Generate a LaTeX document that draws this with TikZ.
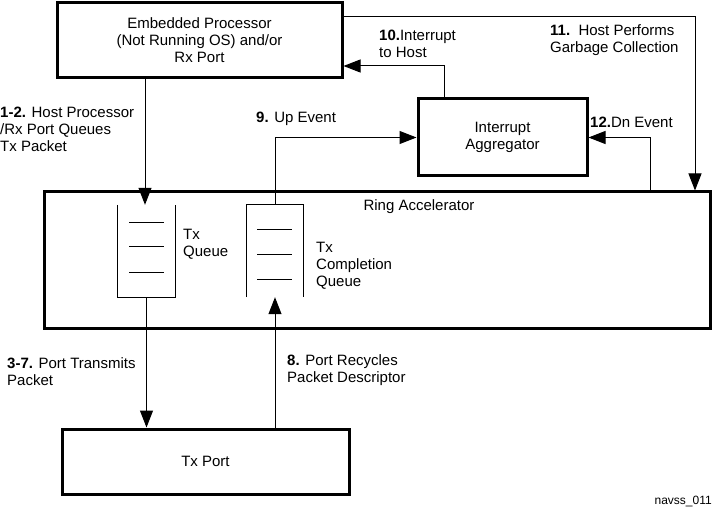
\documentclass[tikz,border=0pt]{standalone}
\usepackage{fontspec}
\setmainfont{Liberation Sans}
\usetikzlibrary{arrows.meta}
\tikzset{
  box/.style={draw, line width=3pt, rectangle, inner sep=0pt, align=center,
    font=\fontsize{15}{17}\selectfont},
  qbox/.style={rectangle, inner sep=0pt},
  lbl/.style={inner sep=0pt, align=left, anchor=west, font=\fontsize{15}{17}\selectfont},
  conn/.style={line width=1pt},
  arr/.style={line width=1pt, -{Triangle[length=17pt,width=13pt]}},
  qline/.style={line width=1pt}
}
\begin{document}
\begin{tikzpicture}[x=1pt,y=-1pt]
\useasboundingbox (0,0) rectangle (713,508);
% boxes
\node[box, minimum width=285pt, minimum height=75pt] (emb) at (199.5,40.5)
  {Embedded Processor\\(Not Running OS) and/or\\Rx Port};
\node[box, minimum width=666pt, minimum height=136pt] (ring) at (377,260) {};
\node[lbl, anchor=center] (ringlbl) at (419,207) {Ring Accelerator};
\node[box, minimum width=169pt, minimum height=77pt] (agg) at (502.5,137.5)
  {Interrupt\\Aggregator};
\node[box, minimum width=287pt, minimum height=65pt] (txp) at (205.5,461.5) {Tx Port};
% queues
\node[qbox, minimum width=57pt, minimum height=92pt] (txq) at (146.5,251) {};
\draw[qline] (txq.north west) -- (txq.south west) -- (txq.south east) -- (txq.north east);
\draw[qline] (129,223) -- (164,223) (129,247) -- (164,247) (129,272) -- (164,272);
\node[qbox, minimum width=56pt, minimum height=92pt] (cq) at (275,251) {};
\draw[qline] (cq.south west) -- (cq.north west) -- (cq.north east) -- (cq.south east);
\draw[qline] (257,230) -- (292,230) (257,255) -- (292,255) (257,279) -- (292,279);
\node[lbl] (txql) at (183,244) {Tx\\Queue};
\node[lbl] (cql) at (316,265.5) {Tx\\Completion\\Queue};
% connectors
\draw[arr] (emb.south -| 145,0) -- (txq.north -| 145,0);
\draw[arr] (txq.south) -- (txq.south |- txp.north);
\draw[arr] (txp.north -| cq.south) -- (cq.south);
\draw[arr] (cq.north) |- (agg.west);
\draw[arr] ([xshift=-58.5pt]agg.north) |- ([yshift=-25.5pt]emb.east);
\draw[arr] ([yshift=23.5pt]emb.east) -| ([xshift=318pt]ring.north);
\draw[arr] ([xshift=273pt]ring.north) |- (agg.east);
% labels
\node[lbl] (l12) at (0,129.5) {\textbf{1-2.} Host Processor\\/Rx Port Queues\\Tx Packet};
\node[lbl] (l9) at (256,119) {\textbf{9.} Up Event};
\node[lbl] (l10) at (379,44) {\textbf{10.}Interrupt\\to Host};
\node[lbl] (l11) at (550,40) {\textbf{11.}\ \ Host Performs\\Garbage Collection};
\node[lbl] (l12b) at (590,122) {\textbf{12.}Dn Event};
\node[lbl] (l37) at (7,371.5) {\textbf{3-7.} Port Transmits\\Packet};
\node[lbl] (l8) at (287,370) {\textbf{8.} Port Recycles\\Packet Descriptor};
\node[inner sep=0pt, anchor=east, font=\fontsize{12}{14}\selectfont] (fig) at (712,502) {navss\_011};
\end{tikzpicture}
\end{document}
